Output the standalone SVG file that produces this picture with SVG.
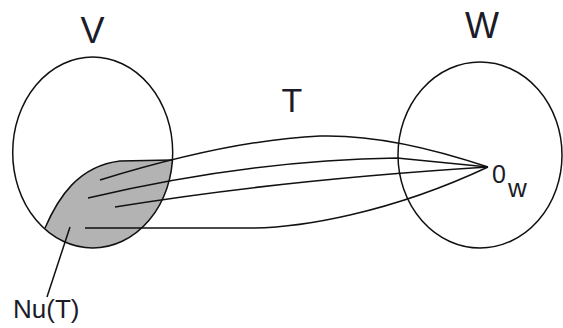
<svg xmlns="http://www.w3.org/2000/svg" width="563" height="328" viewBox="0 0 563 328">
<style>
.ol{fill:none;stroke:#111;stroke-width:1.5}
.ln{fill:none;stroke:#111;stroke-width:1.5;stroke-linejoin:round}
.lb{font-family:"Liberation Sans",Arial,sans-serif;fill:#1c1c28}
</style>
<defs>
<clipPath id="clipV"><ellipse cx="92.7" cy="152.5" rx="80" ry="95.5"/></clipPath>
</defs>
<rect width="563" height="328" fill="#fff"/>
<g id="nodeV">
<path d="M45,228 C58,198 78,166 120,161 L178,160 L178,260 L30,260 Z" fill="#b3b3b3" stroke="none" clip-path="url(#clipV)"/>
<path d="M45,228 C58,198 78,166 120,161 L172,160" class="ln"/>
<ellipse cx="92.7" cy="152.5" rx="80" ry="95.5" class="ol"/>
<text x="92.5" y="43" font-size="36" text-anchor="middle" class="lb">V</text>
</g>
<g id="nodeW">
<ellipse cx="480" cy="155" rx="82" ry="93" class="ol"/>
<text x="482" y="38" font-size="36" text-anchor="middle" class="lb">W</text>
</g>
<g id="labelT">
<text x="292" y="112" font-size="34" text-anchor="middle" class="lb">T</text>
</g>
<g id="label0w">
<text x="492" y="183" font-size="25" class="lb">0</text>
<text x="508" y="197" font-size="26" class="lb">w</text>
</g>
<g id="labelNu">
<text x="13" y="318" font-size="26" class="lb">Nu(T)</text>
</g>
<g id="connectors">
<path d="M100,180 Q230,140 320,136 Q390,134 488,167" class="ln"/>
<path d="M88,198 Q250,160 397,158 L488,167" class="ln"/>
<path d="M115,207 Q280,180 488,167" class="ln"/>
<path d="M85,228 L250,228 C300,228 390,213 488,167" class="ln"/>
<path d="M70,227 L47,297" class="ln"/>
</g>
</svg>
